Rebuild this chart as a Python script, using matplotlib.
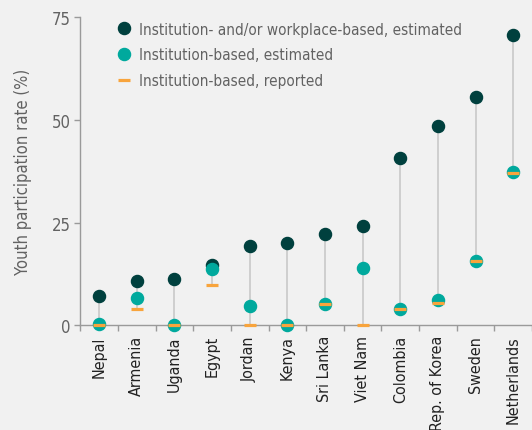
import matplotlib
matplotlib.use("Agg")
import matplotlib.pyplot as plt
import numpy as np

countries = ["Nepal", "Armenia", "Uganda", "Egypt", "Jordan", "Kenya",
             "Sri Lanka", "Viet Nam", "Colombia", "Rep. of Korea", "Sweden",
             "Netherlands"]
inst_work_est = [7.1, 10.8, 11.3, 14.7, 19.4, 20.0, 22.2, 24.2, 40.8, 48.4, 55.5, 70.7]
inst_est = [0.4, 6.6, 0.1, 13.8, 4.7, 0.2, 5.3, 13.9, 4.0, 6.2, 15.8, 37.3]
inst_reported = [0.2, 4.0, 0.2, 9.8, 0.2, 0.2, 5.2, 0.2, 3.9, 5.5, 15.6, 37.2]

BG = "#f1f1f1"
DARK = "#00403e"
TEAL = "#00a99d"
ORANGE = "#f8a43c"
TEXT = "#626262"
AXIS = "#9a9a9a"

plt.rcParams["font.family"] = ["DejaVu Sans"]
plt.rcParams["font.stretch"] = "condensed"

fig = plt.figure(figsize=(5.32, 4.31), dpi=100, facecolor=BG)
ax = fig.add_axes([0.151, 0.2425, 0.849, 0.7155], facecolor=BG)

x = np.arange(len(countries))
lo = np.minimum(np.minimum(inst_work_est, inst_est), inst_reported)
hi = np.maximum(np.maximum(inst_work_est, inst_est), inst_reported)
ax.vlines(x, lo, hi, color="#cfcfcf", lw=1.4, zorder=1)

ax.plot(x, inst_work_est, "o", color=DARK, ms=8.7, ls="none", clip_on=False,
        zorder=3, label="Institution- and/or workplace-based, estimated")
ax.plot(x, inst_est, "o", color=TEAL, ms=8.7, ls="none", clip_on=False,
        zorder=4, label="Institution-based, estimated")
ax.plot(x, inst_reported, "_", color=ORANGE, ms=9, mew=2.3, ls="none",
        clip_on=False, zorder=5, label="Institution-based, reported")

ax.set_xlim(-0.5, len(countries) - 0.5)
ax.set_ylim(0, 75)
ax.set_yticks([0, 25, 50, 75])
ax.set_xticks(x)
ax.set_xticklabels(countries, rotation=90, fontsize=11.5, color="#222222")
ax.set_xticks(np.arange(-0.5, len(countries), 1), minor=True)
ax.tick_params(axis="x", which="major", length=0, pad=7)
ax.tick_params(axis="x", which="minor", length=4, color=AXIS, width=1)
ax.tick_params(axis="y", length=4, color=AXIS, width=1, labelsize=12,
               labelcolor=TEXT, pad=3)
ax.set_ylabel("Youth participation rate (%)", fontsize=12, color=TEXT,
              labelpad=14)

for side in ("top", "right"):
    ax.spines[side].set_visible(False)
for side in ("left", "bottom"):
    ax.spines[side].set_color(AXIS)
    ax.spines[side].set_linewidth(1)

leg = ax.legend(loc="upper left", bbox_to_anchor=(0.066, 1.005), frameon=False,
                fontsize=11, handlelength=1.0, handletextpad=0.5,
                labelspacing=0.7, borderaxespad=0)
for t in leg.get_texts():
    t.set_color(TEXT)

fig.savefig("out.png", dpi=100, facecolor=BG)
